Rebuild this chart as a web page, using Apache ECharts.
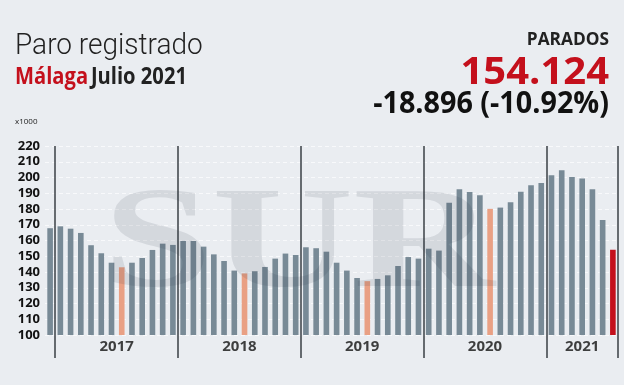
<!DOCTYPE html>
<html>
<head>
<meta charset="utf-8">
<script src="https://cdn.jsdelivr.net/npm/echarts@6/dist/echarts.min.js"></script>
<style>
html,body{margin:0;padding:0;background:#eaedf1;}
#c{width:624px;height:385px;}
</style>
</head>
<body>
<div id="c"></div>
<script>
// Months Dec 2016 .. Jul 2021 (parados, miles)
const months = [
  '2016-12',
  '2017-01','2017-02','2017-03','2017-04','2017-05','2017-06','2017-07','2017-08','2017-09','2017-10','2017-11','2017-12',
  '2018-01','2018-02','2018-03','2018-04','2018-05','2018-06','2018-07','2018-08','2018-09','2018-10','2018-11','2018-12',
  '2019-01','2019-02','2019-03','2019-04','2019-05','2019-06','2019-07','2019-08','2019-09','2019-10','2019-11','2019-12',
  '2020-01','2020-02','2020-03','2020-04','2020-05','2020-06','2020-07','2020-08','2020-09','2020-10','2020-11','2020-12',
  '2021-01','2021-02','2021-03','2021-04','2021-05','2021-06','2021-07'
];
const parados = [
  167.8,
  169.0,167.5,164.8,157.0,151.9,145.9,143.0,145.9,148.9,154.0,158.0,157.2,
  159.7,159.7,156.1,151.2,147.0,140.9,139.1,140.5,143.2,148.5,151.7,150.8,
  155.7,155.1,152.9,145.9,140.9,136.2,134.2,135.6,137.9,143.8,149.5,148.5,
  154.8,153.6,184.0,192.5,190.8,188.7,180.1,180.9,184.3,191.0,195.1,196.5,
  201.4,204.6,200.3,199.3,192.5,173.02,154.124
];
const yearLabels = ['2017','2018','2019','2020','2021'];
const yTicks = [100,110,120,130,140,150,160,170,180,190,200,210,220];

const C_BAR = '#788a96', C_JUL = '#e9a084', C_LAST = '#c4101c';

// year label centres computed from month positions
const yearCenters = yearLabels.map(y => {
  const idx = months.map((m,i)=>m.startsWith(y)?i:-1).filter(i=>i>=0);
  return [(idx[0]+idx[idx.length-1])/2, yTicks[0]];
});
const isYearStart = i => months[i] && months[i].endsWith('-01');

const barData = parados.map((v,i) => ({
  value: v,
  itemStyle: { color: i === parados.length-1 ? C_LAST : (months[i].endsWith('-07') ? C_JUL : C_BAR) }
}));

const chart = echarts.init(document.getElementById('c'));
chart.setOption({
  backgroundColor: '#eaedf1',
  animation: false,
  grid: { left: 45, right: 6, top: 146, bottom: 50 },
  xAxis: [{
    type: 'category', data: months, boundaryGap: true,
    axisLine: { show: false },
    axisLabel: { show: false },
    axisTick: { show: true, length: 23, interval: (i) => isYearStart(i), lineStyle: { color: '#3a3f44', width: 1.5 } },
    splitLine: { show: true, interval: (i) => isYearStart(i), lineStyle: { color: '#3a3f44', width: 1.5 } }
  }, {
    type: 'value', min: -0.5, max: months.length - 0.5, show: false
  }],
  yAxis: {
    type: 'value', min: yTicks[0], max: yTicks[yTicks.length-1], interval: 10,
    axisLine: { show: false }, axisTick: { show: false },
    axisLabel: { color: '#111', fontWeight: 'bold', fontSize: 13, fontFamily: 'Open Sans', margin: 5 },
    splitLine: { lineStyle: { color: '#f8f9fb', type: [4,3], width: 1 } }
  },
  series: [{
    type: 'bar', data: barData, barWidth: '55%', z: 3
  }, {
    type: 'scatter', xAxisIndex: 1, data: yearCenters, symbolSize: 0, silent: true,
    label: { show: true, position: 'bottom', distance: 4, color: '#111', fontWeight: 'bold', fontSize: 15, fontFamily: 'Open Sans',
      formatter: p => yearLabels[p.dataIndex] }
  }],
  graphic: [
    { type: 'text', left: 15, top: 32, scaleX: 0.95, style: { text: 'Paro registrado', fontSize: 29.5, fontWeight: 300, fontFamily: 'Roboto', fill: '#222' } },
    { type: 'text', left: 15, top: 65, scaleX: 0.84, style: { text: '{r|Málaga} {b|Julio 2021}', rich: {
        r: { fontSize: 24, fontWeight: 'bold', fontFamily: 'Open Sans', fill: '#c4101c', color: '#c4101c' },
        b: { fontSize: 24, fontWeight: 'bold', fontFamily: 'Open Sans', fill: '#222', color: '#222' } } } },
    { type: 'text', left: 15, top: 118, style: { text: 'x1000', fontSize: 8, fontFamily: 'Open Sans', fill: '#222' } },
    { type: 'text', right: 15, top: 31, scaleX: 0.96, style: { text: 'PARADOS', fontSize: 18, fontWeight: 'bold', fontFamily: 'Open Sans', fill: '#222' } },
    { type: 'text', right: 15, top: 55, scaleX: 1.08, style: { text: '154.124', fontSize: 37, fontWeight: 'bold', fontFamily: 'Open Sans', fill: '#c4101c' } },
    { type: 'text', right: 15, top: 90, scaleX: 0.975, style: { text: '-18.896 (-10.92%)', fontSize: 29.5, fontWeight: 'bold', fontFamily: 'Open Sans', fill: '#111' } },
    { type: 'text', left: 103, top: 177, z: 100, silent: true, scaleX: 1.36, style: { text: 'SUR', fontSize: 144, fontWeight: 'bold', fontFamily: 'Liberation Serif', fill: 'rgba(40,50,60,0.11)' } }
  ]
});
</script>
</body>
</html>
